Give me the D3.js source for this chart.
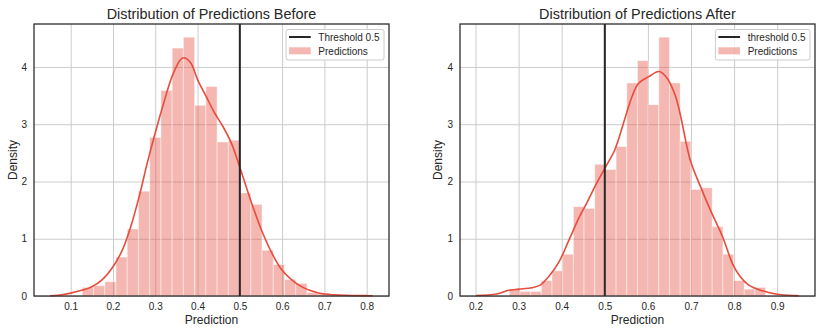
<!DOCTYPE html>
<html>
<head>
<meta charset="utf-8">
<script src="https://cdn.jsdelivr.net/npm/d3@7"></script>
<style>
  html, body { margin: 0; padding: 0; background: #fff; }
  svg { display: block; font-family: "Liberation Sans", Arial, sans-serif; }
</style>
</head>
<body>
<svg id="chart" width="822" height="333"></svg>
<script>
// ---------------- data ----------------
const titles = ["Distribution of Predictions Before", "Distribution of Predictions After"];
const thresholdLabels = ["Threshold 0.5", "threshold 0.5"];
const seriesLabel = "Predictions";
const xLabel = "Prediction";
const yLabel = "Density";
const threshold = 0.5;

const beforeXTicks = [0.1, 0.2, 0.3, 0.4, 0.5, 0.6, 0.7, 0.8];
const afterXTicks = [0.2, 0.3, 0.4, 0.5, 0.6, 0.7, 0.8, 0.9];
const yTicks = [0, 1, 2, 3, 4];

// histogram (density) : first bin edge, bin width, bar heights
const beforeBinStart = 0.1274;
const beforeBinWidth = 0.02657;
const beforeHist = [0.15, 0.18, 0.25, 0.68, 1.17, 1.83, 2.77, 3.59, 4.33, 4.52, 3.33, 3.66,
                    2.69, 2.72, 1.80, 1.60, 0.80, 0.55, 0.29, 0.22, 0.06, 0.05, 0.03];
const afterBinStart = 0.2784;
const afterBinWidth = 0.02478;
const afterHist = [0.12, 0.08, 0.08, 0.27, 0.44, 0.73, 1.56, 1.53, 2.30, 2.21, 2.61, 3.72,
                   4.11, 3.34, 4.52, 3.72, 2.70, 1.86, 1.89, 1.21, 0.73, 0.27, 0.12, 0.15];

// KDE curve
const beforeKdeX = [0.0514, 0.07, 0.1, 0.15, 0.174, 0.2, 0.222, 0.242, 0.262, 0.281, 0.3, 0.32,
                    0.34, 0.36, 0.368, 0.384, 0.4, 0.42, 0.44, 0.46, 0.48, 0.5, 0.528, 0.554,
                    0.58, 0.6, 0.625, 0.649, 0.68, 0.7, 0.75, 0.8, 0.8146];
const beforeKdeY = [0.005, 0.012, 0.05, 0.16, 0.28, 0.51, 0.80, 1.21, 1.74, 2.32, 2.85, 3.37,
                    3.84, 4.13, 4.16, 4.07, 3.78, 3.49, 3.20, 2.96, 2.67, 2.25, 1.62, 1.10,
                    0.69, 0.45, 0.27, 0.15, 0.064, 0.035, 0.012, 0.006, 0.004];
const afterKdeX = [0.2014, 0.249, 0.277, 0.3, 0.331, 0.35, 0.37, 0.394, 0.417, 0.441, 0.456, 0.477,
                   0.5, 0.523, 0.543, 0.563, 0.578, 0.602, 0.626, 0.645, 0.664, 0.676, 0.698,
                   0.722, 0.745, 0.773, 0.796, 0.811, 0.834, 0.866, 0.9, 0.943, 0.95];
const afterKdeY = [0.008, 0.035, 0.10, 0.12, 0.145, 0.19, 0.34, 0.60, 0.98, 1.38, 1.59, 1.91,
                   2.23, 2.55, 3.01, 3.48, 3.71, 3.83, 3.92, 3.80, 3.49, 3.14, 2.38,
                   1.91, 1.50, 1.04, 0.57, 0.37, 0.19, 0.09, 0.03, 0.006, 0.004];

const beforeXDomain = [0.0132, 0.8528];
const afterXDomain = [0.164, 0.9877];
const yDomain = [0, 4.75];

// ---------------- drawing ----------------
const svg = d3.select("#chart");
const ink = "#262626";
const red = "#e74c3c";

const panels = [
  { left: 34, right: 389, title: titles[0], thr: thresholdLabels[0], xTicks: beforeXTicks,
    xDomain: beforeXDomain, binStart: beforeBinStart, binWidth: beforeBinWidth, hist: beforeHist,
    kx: beforeKdeX, ky: beforeKdeY, yLabelX: 16.5 },
  { left: 460, right: 815, title: titles[1], thr: thresholdLabels[1], xTicks: afterXTicks,
    xDomain: afterXDomain, binStart: afterBinStart, binWidth: afterBinWidth, hist: afterHist,
    kx: afterKdeX, ky: afterKdeY, yLabelX: 441.5 }
];
const plotTop = 24, plotBottom = 296;

panels.forEach(p => {
  const x = d3.scaleLinear().domain(p.xDomain).range([p.left, p.right]);
  const y = d3.scaleLinear().domain(yDomain).range([plotBottom, plotTop]);
  const g = svg.append("g");

  // grid
  const xAxis = d3.axisBottom(x).tickValues(p.xTicks).tickSize(-(plotBottom - plotTop)).tickPadding(0)
    .tickFormat(d3.format(".1f"));
  const gx = g.append("g").attr("transform", `translate(0,${plotBottom})`).call(xAxis);
  gx.select(".domain").remove();
  gx.selectAll(".tick line").attr("stroke", "#cccccc").attr("stroke-width", 1);
  gx.selectAll(".tick text").attr("fill", ink).attr("font-size", 10).attr("y", 13.5).attr("dy", null)
    .attr("font-family", "'Liberation Sans', Arial, sans-serif");

  const yAxis = d3.axisLeft(y).tickValues(yTicks).tickSize(-(p.right - p.left)).tickPadding(7)
    .tickFormat(d3.format("d"));
  const gy = g.append("g").attr("transform", `translate(${p.left},0)`).call(yAxis);
  gy.select(".domain").remove();
  gy.selectAll(".tick line").attr("stroke", "#cccccc").attr("stroke-width", 1);
  gy.selectAll(".tick text").attr("fill", ink).attr("font-size", 10)
    .attr("font-family", "'Liberation Sans', Arial, sans-serif");

  // bars
  g.append("g").selectAll("rect").data(p.hist).join("rect")
    .attr("x", (d, i) => x(p.binStart + i * p.binWidth))
    .attr("width", (d, i) => x(p.binStart + (i + 1) * p.binWidth) - x(p.binStart + i * p.binWidth))
    .attr("y", d => y(d))
    .attr("height", d => y(0) - y(d))
    .attr("fill", red).attr("fill-opacity", 0.4)
    .attr("stroke", "#fff").attr("stroke-opacity", 0.45).attr("stroke-width", 1);

  // kde
  const pts = p.kx.map((v, i) => [v, p.ky[i]]);
  g.append("path").datum(pts)
    .attr("d", d3.line().x(d => x(d[0])).y(d => y(d[1])).curve(d3.curveCatmullRom.alpha(0.5)))
    .attr("fill", "none").attr("stroke", red).attr("stroke-width", 1.6);

  // threshold
  g.append("line").attr("x1", x(threshold)).attr("x2", x(threshold))
    .attr("y1", plotTop).attr("y2", plotBottom).attr("stroke", ink).attr("stroke-width", 2);

  // spines
  g.append("rect").attr("x", p.left).attr("y", plotTop).attr("width", p.right - p.left)
    .attr("height", plotBottom - plotTop).attr("fill", "none").attr("stroke", ink).attr("stroke-width", 1.25);

  // title & labels
  g.append("text").attr("x", (p.left + p.right) / 2).attr("y", 18.5).attr("text-anchor", "middle")
    .attr("font-size", 14.4).attr("fill", ink).text(p.title);
  g.append("text").attr("x", (p.left + p.right) / 2).attr("y", 324).attr("text-anchor", "middle")
    .attr("font-size", 12).attr("fill", ink).text(xLabel);
  g.append("text").attr("transform", `translate(${p.yLabelX},${(plotTop + plotBottom) / 2}) rotate(-90)`)
    .attr("text-anchor", "middle").attr("font-size", 12).attr("fill", ink).text(yLabel);

  // legend
  const lg = g.append("g");
  const box = lg.append("rect");
  const t1 = lg.append("text").attr("font-size", 10).attr("fill", ink).text(p.thr);
  const t2 = lg.append("text").attr("font-size", 10).attr("fill", ink).text(seriesLabel);
  const tw = Math.max(t1.node().getComputedTextLength(), t2.node().getComputedTextLength());
  const w = 32.3 + tw + 4.5;
  const lx = p.right - 5 - w;
  box.attr("x", lx).attr("y", 29.5).attr("width", w).attr("height", 30.5).attr("rx", 2)
    .attr("fill", "#fff").attr("fill-opacity", 0.8).attr("stroke", "#cccccc").attr("stroke-width", 1);
  lg.append("line").attr("x1", lx + 3).attr("x2", lx + 24.7).attr("y1", 37).attr("y2", 37)
    .attr("stroke", ink).attr("stroke-width", 2);
  lg.append("rect").attr("x", lx + 3).attr("y", 47.3).attr("width", 21.7).attr("height", 7)
    .attr("fill", red).attr("fill-opacity", 0.4);
  t1.attr("x", lx + 32.3).attr("y", 40.5);
  t2.attr("x", lx + 32.3).attr("y", 54.5);
});
</script>
</body>
</html>
